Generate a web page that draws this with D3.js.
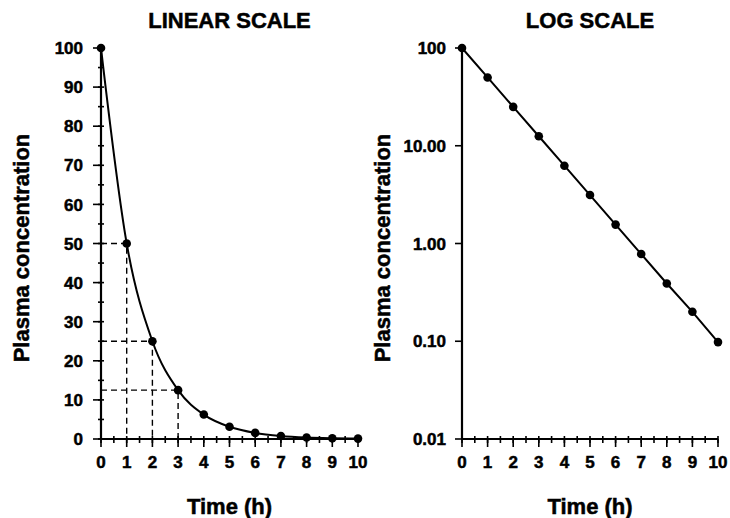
<!DOCTYPE html>
<meta charset="utf-8">
<script src="https://d3js.org/d3.v7.js"></script>
<style>
  body { margin: 0; background: #fff; }
  text { font-family: "Liberation Sans", Arial, sans-serif; font-weight: bold; fill: #000;
         stroke: #000; stroke-width: 0.5px; }
</style>
<svg id="chart" width="730" height="518"></svg>
<script>

// Data
const hours = [0, 1, 2, 3, 4, 5, 6, 7, 8, 9, 10];
const concentration = [100, 50, 25, 12.5, 6.25, 3.13, 1.56, 0.78, 0.39, 0.2, 0.098];
const guideHours = [1, 2, 3];           // dashed half-life guides on linear panel
const linearTicks = [0, 10, 20, 30, 40, 50, 60, 70, 80, 90, 100];
const logTicks = [100, 10, 1, 0.1, 0.01];
const logTickLabels = ["100", "10.00", "1.00", "0.10", "0.01"];
const timeTicks = [0, 1, 2, 3, 4, 5, 6, 7, 8, 9, 10];
const timeMinor = d3.range(0, 10.01, 0.5);
const linearMinor = d3.range(0, 100.01, 5);

const svg = d3.select("#chart");
const plotTop = 48, plotBottom = 439;

const panels = [
  { left: 101, right: 358, title: "LINEAR SCALE", type: "linear" },
  { left: 462, right: 718, title: "LOG SCALE", type: "log" }
];

panels.forEach(function(p) {
  const g = svg.append("g");
  const x = d3.scaleLinear().domain([0, 10]).range([p.left, p.right]);
  const y = p.type === "linear"
    ? d3.scaleLinear().domain([0, 100]).range([plotBottom, plotTop])
    : d3.scaleLog().domain([0.01, 100]).range([plotBottom, plotTop]);

  // title
  g.append("text")
    .attr("x", (p.left + p.right) / 2)
    .attr("y", 28)
    .attr("text-anchor", "middle")
    .style("font-size", "22px")
    .text(p.title);

  // axis titles
  g.append("text")
    .attr("x", (p.left + p.right) / 2)
    .attr("y", 514)
    .attr("text-anchor", "middle")
    .style("font-size", "22px")
    .text("Time (h)");

  g.append("text")
    .attr("transform", "translate(" + (p.left - 72) + ",248) rotate(-90)")
    .attr("text-anchor", "middle")
    .style("font-size", "22px")
    .text("Plasma concentration");

  // dashed guides (linear only)
  if (p.type === "linear") {
    guideHours.forEach(function(h) {
      const c = concentration[hours.indexOf(h)];
      g.append("path")
        .attr("d", "M" + x(0) + "," + y(c) + "H" + x(h) + "V" + y(0))
        .attr("fill", "none")
        .attr("stroke", "#000")
        .attr("stroke-width", 1.4)
        .attr("stroke-dasharray", "6,4");
    });
  }

  // axis lines
  g.append("line")
    .attr("x1", x(0)).attr("x2", x(0))
    .attr("y1", y.range()[1]).attr("y2", y.range()[0])
    .attr("stroke", "#000").attr("stroke-width", 2.2);
  g.append("line")
    .attr("x1", x(0) - 1).attr("x2", x(10))
    .attr("y1", plotBottom).attr("y2", plotBottom)
    .attr("stroke", "#000").attr("stroke-width", 2.2);

  // x minor ticks (crossing)
  g.selectAll(".xminor").data(timeMinor).join("line")
    .attr("x1", d => x(d)).attr("x2", d => x(d))
    .attr("y1", plotBottom - 3).attr("y2", plotBottom + 4)
    .attr("stroke", "#000").attr("stroke-width", 1.6);
  // x major ticks
  g.selectAll(".xmajor").data(timeTicks).join("line")
    .attr("x1", d => x(d)).attr("x2", d => x(d))
    .attr("y1", plotBottom).attr("y2", plotBottom + 8)
    .attr("stroke", "#000").attr("stroke-width", 1.6);
  g.selectAll(".xlab").data(timeTicks).join("text")
    .attr("x", d => x(d))
    .attr("y", 468)
    .attr("text-anchor", "middle")
    .style("font-size", "17px")
    .text(d => d);

  // y ticks
  if (p.type === "linear") {
    g.selectAll(".yminor").data(linearMinor).join("line")
      .attr("x1", x(0) - 3).attr("x2", x(0) + 3)
      .attr("y1", d => y(d)).attr("y2", d => y(d))
      .attr("stroke", "#000").attr("stroke-width", 1.6);
    g.selectAll(".ymajor").data(linearTicks).join("line")
      .attr("x1", x(0) - 8).attr("x2", x(0))
      .attr("y1", d => y(d)).attr("y2", d => y(d))
      .attr("stroke", "#000").attr("stroke-width", 1.6);
    g.selectAll(".ylab").data(linearTicks).join("text")
      .attr("x", x(0) - 18)
      .attr("y", d => y(d))
      .attr("dy", "0.36em")
      .attr("text-anchor", "end")
      .style("font-size", "17px")
      .text(d => d);
  } else {
    g.selectAll(".ymajor").data(logTicks).join("line")
      .attr("x1", x(0) - 7).attr("x2", x(0))
      .attr("y1", d => y(d)).attr("y2", d => y(d))
      .attr("stroke", "#000").attr("stroke-width", 1.6);
    g.selectAll(".ylab").data(logTicks).join("text")
      .attr("x", x(0) - 16)
      .attr("y", d => y(d))
      .attr("dy", "0.36em")
      .attr("text-anchor", "end")
      .style("font-size", "17px")
      .text((d, i) => logTickLabels[i]);
  }

  // curve
  const pts = hours.map((h, i) => [h, concentration[i]]);
  const line = d3.line()
    .x(d => x(d[0]))
    .y(d => y(d[1]))
    .curve(p.type === "linear" ? d3.curveMonotoneX : d3.curveLinear);
  g.append("path")
    .datum(pts)
    .attr("d", line)
    .attr("fill", "none")
    .attr("stroke", "#000")
    .attr("stroke-width", 2);

  g.selectAll(".dot").data(pts).join("circle")
    .attr("cx", d => x(d[0]))
    .attr("cy", d => y(d[1]))
    .attr("r", 4.3)
    .attr("fill", "#000");
});

</script>
